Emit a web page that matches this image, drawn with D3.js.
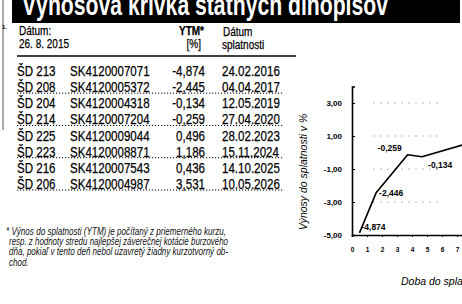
<!DOCTYPE html>
<html>
<head>
<meta charset="utf-8">
<script src="https://cdn.jsdelivr.net/npm/d3@7"></script>
<style>
  body { margin: 0; background: #fff; }
  svg { display: block; }
</style>
</head>
<body>
<div id="chart"></div>
<script>
// table data
const bonds = ['ŠD 213', 'ŠD 208', 'ŠD 204', 'ŠD 214', 'ŠD 225', 'ŠD 223', 'ŠD 216', 'ŠD 206'];
const isins = ['SK4120007071', 'SK4120005372', 'SK4120004318', 'SK4120007204',
               'SK4120009044', 'SK4120008871', 'SK4120007543', 'SK4120004987'];
const ytm = [-4.874, -2.445, -0.134, -0.259, 0.496, 1.186, 0.436, 3.531];
const maturities = ['24.02.2016', '04.04.2017', '12.05.2019', '27.04.2020',
                    '28.02.2023', '15.11.2024', '14.10.2025', '10.05.2026'];
// labels printed next to the curve (only the first four are visible)
const pointLabels = ['-4,874', '-2,446', '-0,259', '-0,134'];
const yTicks = [-5, -3, -1, 1, 3];
const xTicks = [0, 1, 2, 3, 4, 5, 6, 7];
const footnote = [
  '* Výnos do splatnosti (YTM) je počítaný z priemerného kurzu,',
  'resp. z hodnoty stredu najlepšej záverečnej kotácie burzového',
  'dňa, pokiaľ v tento deň nebol uzavretý žiadny kurzotvorný ob-',
  'chod.'
];

const W = 462, H = 304;
const plain = '"Liberation Sans", Arial, sans-serif';

// squeeze text horizontally to mimic the condensed newspaper face
function condense(sel, k) {
  sel.each(function () {
    const w = this.getComputedTextLength();
    d3.select(this)
      .attr('textLength', w * k)
      .attr('lengthAdjust', 'spacingAndGlyphs');
  });
}

const svg = d3.select('#chart').append('svg')
  .attr('width', W).attr('height', H);

// title banner, clipped at the top like the scan
svg.append('rect')
  .attr('x', 12).attr('y', 0).attr('width', 448).attr('height', 23)
  .attr('fill', '#000');
svg.append('text')
  .attr('x', 22).attr('y', 15)
  .attr('textLength', 366).attr('lengthAdjust', 'spacingAndGlyphs')
  .attr('font-family', plain).attr('font-weight', 'bold').attr('font-size', 30)
  .attr('fill', '#fff')
  .text('Výnosová krivka štátnych dlhopisov');

svg.append('line')
  .attr('x1', 3).attr('x2', 3).attr('y1', 0).attr('y2', 130)
  .attr('stroke', '#555').attr('stroke-width', 1);
svg.append('text')
  .attr('x', 2).attr('y', 29)
  .attr('font-family', plain).attr('font-size', 6).attr('font-weight', 'bold')
  .text('1.');

// ---- table ----
const table = svg.append('g')
  .attr('font-family', plain).attr('fill', '#000')
  .attr('stroke', '#000').attr('stroke-width', 0.25);

const header = table.append('g').attr('font-size', 12.5);
header.append('text').attr('x', 19).attr('y', 35).text('Dátum:');
header.append('text').attr('x', 19).attr('y', 48).text('26. 8. 2015');
header.append('text').attr('x', 204).attr('y', 35).attr('text-anchor', 'end').attr('font-weight', 'bold').text('YTM*');
header.append('text').attr('x', 201).attr('y', 48).attr('text-anchor', 'end').text('[%]');
header.append('text').attr('x', 223).attr('y', 36).text('Dátum');
header.append('text').attr('x', 222).attr('y', 49).text('splatnosti');
condense(header.selectAll('text'), 0.8);

table.append('line')
  .attr('x1', 17).attr('x2', 296).attr('y1', 56).attr('y2', 56)
  .attr('stroke', '#000').attr('stroke-width', 1.6);

const rowY = d3.scalePoint()
  .domain(bonds)
  .range([76, 189]);

const fmtPct = d => d3.format('.3f')(d).replace('.', ',').replace('−', '-');

const rows = table.append('g')
  .attr('font-size', 15)
  .selectAll('g')
  .data(bonds)
  .join('g')
    .attr('transform', d => `translate(0, ${rowY(d)})`);

rows.append('text').attr('x', 17).text(d => d);
rows.append('text').attr('x', 70).text((d, i) => isins[i]);
rows.append('text').attr('x', 205).attr('text-anchor', 'end').text((d, i) => fmtPct(ytm[i]));
rows.append('text').attr('x', 222).text((d, i) => maturities[i]);
condense(rows.selectAll('text'), 0.77);

// dotted rules under every second row
rows.filter((d, i) => i % 2 === 1)
  .append('line')
    .attr('x1', 17).attr('x2', 283).attr('y1', 1).attr('y2', 1)
    .attr('stroke', '#000').attr('stroke-width', 1)
    .attr('stroke-dasharray', '1.2,1.8');

// footnote
const foot = svg.append('g')
  .attr('font-family', plain).attr('font-style', 'italic')
  .attr('font-size', 10).attr('fill', '#111');
foot.selectAll('text')
  .data(footnote)
  .join('text')
    .attr('x', (d, i) => i === 0 ? 6 : 9)
    .attr('y', (d, i) => 235 + i * 10.2)
    .text(d => d);
condense(foot.selectAll('text').filter((d, i) => i === 3), 0.8);
foot.selectAll('text').filter((d, i) => i < 3)
  .attr('textLength', (d, i) => i === 0 ? 220 : 219)
  .attr('lengthAdjust', 'spacingAndGlyphs');

// ---- yield curve ----
const ref = new Date(2015, 7, 26);
const parseDate = d3.timeParse('%d.%m.%Y');
const years = maturities.map(s => (parseDate(s) - ref) / (365.25 * 864e5));

const pts = years.map((t, i) => ({ t, y: ytm[i], label: pointLabels[i] }));

const xScale = d3.scaleLinear()
  .domain([0, 7.4])
  .range([352, 463]);

const yScale = d3.scaleLinear()
  .domain([-5, 4])
  .range([235, 86.5]);

const fmtTick = d => d3.format('.2f')(d).replace('.', ',').replace('−', '-');

const plot = svg.append('g');

// faint dotted grid
plot.append('g')
  .selectAll('line')
  .data(yTicks.filter(d => d > -5))
  .join('line')
    .attr('x1', xScale(1.4)).attr('x2', xScale(6))
    .attr('y1', d => yScale(d)).attr('y2', d => yScale(d))
    .attr('stroke', '#bbb').attr('stroke-width', 1)
    .attr('stroke-dasharray', '2,5');

const yAxis = plot.append('g')
  .attr('transform', `translate(${xScale(0)}, 0)`)
  .call(d3.axisRight(yScale).tickValues(yTicks).tickSize(3).tickFormat(''));
yAxis.select('.domain').attr('stroke-width', 1.6);

plot.append('g')
  .selectAll('text')
  .data(yTicks)
  .join('text')
    .attr('x', xScale(0) - 10)
    .attr('y', d => yScale(d) + 3)
    .attr('text-anchor', 'end')
    .attr('font-family', plain).attr('font-weight', 'bold').attr('font-size', 8)
    .text(fmtTick);

const xAxis = plot.append('g')
  .attr('transform', `translate(0, ${yScale(-5)})`)
  .call(d3.axisBottom(xScale).tickValues(xTicks).tickSize(2)
    .tickFormat(d3.format('d')));
xAxis.select('.domain').attr('stroke-width', 1.6);
xAxis.selectAll('.tick text')
  .attr('y', 12)
  .attr('font-family', plain).attr('font-weight', 'bold').attr('font-size', 6.5);

plot.append('path')
  .datum(pts)
  .attr('fill', 'none')
  .attr('stroke', '#000')
  .attr('stroke-width', 1.6)
  .attr('stroke-linejoin', 'round')
  .attr('d', d3.line().x(d => xScale(d.t)).y(d => yScale(d.y)));

// value labels with offsets as printed
const labelOffset = [[2, -3], [3, 3], [-30, -4], [6, 11]];
plot.append('g')
  .attr('font-family', plain).attr('font-weight', 'bold').attr('font-size', 8.5)
  .selectAll('text')
  .data(pts.filter(d => d.label))
  .join('text')
    .attr('x', (d, i) => xScale(d.t) + labelOffset[i][0])
    .attr('y', (d, i) => yScale(d.y) + labelOffset[i][1])
    .text(d => d.label);

// axis titles
svg.append('text')
  .attr('transform', `translate(307, 172) rotate(-90)`)
  .attr('text-anchor', 'middle')
  .attr('font-family', plain).attr('font-style', 'italic').attr('font-size', 10.5)
  .text('Výnosy do splatnosti v %');

svg.append('text')
  .attr('x', 401).attr('y', 285)
  .attr('font-family', plain).attr('font-style', 'italic').attr('font-size', 10.5)
  .text('Doba do splatnosti v rokoch');
</script>
</body>
</html>
